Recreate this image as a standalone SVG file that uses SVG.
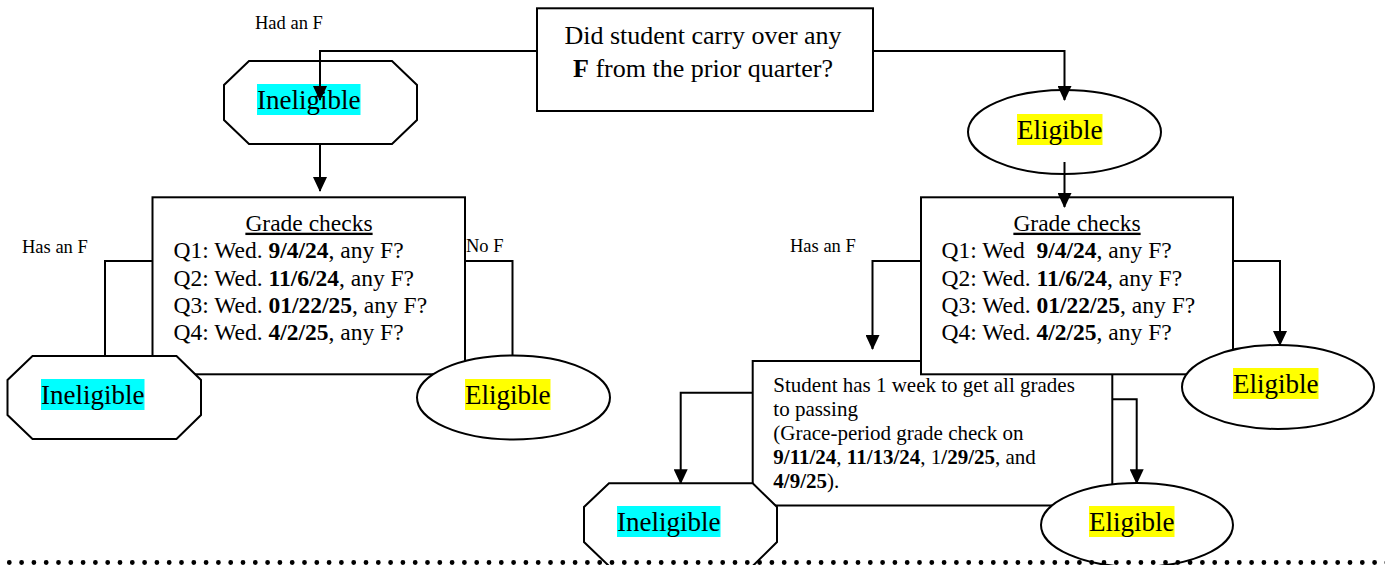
<svg xmlns="http://www.w3.org/2000/svg" width="1385" height="565" viewBox="0 0 1385 565">
<defs>
<marker id="arr" markerUnits="userSpaceOnUse" markerWidth="15" markerHeight="14" refX="14" refY="7" orient="auto"><path d="M0,0 L15,7 L0,14 z" fill="#000"/></marker>
</defs>
<style>
text{font-family:"Liberation Serif","Times New Roman",serif;fill:#000}
.box{fill:#fff;stroke:#000;stroke-width:2}
.t26{font-size:26px}
.q{font-size:23.5px}
.g{font-size:21px}
.lbl{font-size:18.5px}
.nl{font-size:27px}
.b{font-weight:bold}
.hc{fill:#00ffff}
.hy{fill:#ffff00}
.c{fill:none;stroke:#000;stroke-width:2}
.a{marker-end:url(#arr)}
.dots{fill:none;stroke:#000;stroke-width:4.8;stroke-linecap:round;stroke-dasharray:0 12.3}
</style>
<rect width="1385" height="565" fill="#fff"/>

<g id="labels">
<text class="lbl" x="255" y="29.3">Had an F</text>
<text class="lbl" x="22" y="252.7">Has an F</text>
<text class="lbl" x="466" y="252.3">No F</text>
<text class="lbl" x="790" y="252.3">Has an F</text>
</g>

<g id="grace-box">
<rect class="box" x="752.7" y="361" width="359.6" height="144.5"/>
<text class="g" x="773.3" y="391.5">Student has 1 week to get all grades</text>
<text class="g" x="773.3" y="415.7">to passing</text>
<text class="g" x="773.3" y="439.9">(Grace-period grade check on</text>
<text class="g" x="773.3" y="464.1"><tspan class="b">9/11/24</tspan>, <tspan class="b">11/13/24</tspan>, 1<tspan class="b">/29/25</tspan>, and</text>
<text class="g" x="773.3" y="488.3"><tspan class="b">4/9/25</tspan>).</text>
</g>

<g id="grade-checks-right">
<rect class="box" x="921" y="197.3" width="312" height="177"/>
<text class="q" x="1077" y="230.7" text-anchor="middle" text-decoration="underline">Grade checks</text>
<text class="q" x="941.6" y="258.3" style="white-space:pre">Q1: Wed  <tspan class="b">9/4/24</tspan>, any F?</text>
<text class="q" x="941.6" y="285.7">Q2: Wed. <tspan class="b">11/6/24</tspan>, any F?</text>
<text class="q" x="941.6" y="312.9">Q3: Wed. <tspan class="b">01/22/25</tspan>, any F?</text>
<text class="q" x="941.6" y="340.1">Q4: Wed. <tspan class="b">4/2/25</tspan>, any F?</text>
</g>

<g id="grade-checks-left">
<rect class="box" x="152.5" y="197.3" width="312.5" height="177"/>
<text class="q" x="309" y="230.7" text-anchor="middle" text-decoration="underline">Grade checks</text>
<text class="q" x="173.5" y="258.3">Q1: Wed. <tspan class="b">9/4/24</tspan>, any F?</text>
<text class="q" x="173.5" y="285.7">Q2: Wed. <tspan class="b">11/6/24</tspan>, any F?</text>
<text class="q" x="173.5" y="312.9">Q3: Wed. <tspan class="b">01/22/25</tspan>, any F?</text>
<text class="q" x="173.5" y="340.1">Q4: Wed. <tspan class="b">4/2/25</tspan>, any F?</text>
</g>

<g id="question">
<rect class="box" x="537" y="8.3" width="336" height="102.7"/>
<text class="t26" x="703" y="44.3" text-anchor="middle">Did student carry over any</text>
<text class="t26" x="703" y="77.3" text-anchor="middle"><tspan class="b">F</tspan> from the prior quarter?</text>
</g>

<g id="ineligible-top">
<polygon class="box" points="249,61 392,61 417,85 417,120 392,144 249,144 224,120 224,85"/>
<rect class="hc" x="257" y="84" width="103.5" height="31"/>
<text class="nl" x="257" y="109">Ineligible</text>
</g>

<g id="eligible-top">
<ellipse class="box" cx="1064.5" cy="132" rx="96.5" ry="42"/>
<rect class="hy" x="1017" y="114" width="85.5" height="31"/>
<text class="nl" x="1017" y="139">Eligible</text>
</g>

<g id="ineligible-left">
<polygon class="box" points="32.5,356 176.5,356 201,380 201,415 176.5,439 32.5,439 7.5,415 7.5,380"/>
<rect class="hc" x="41" y="379" width="103.5" height="31"/>
<text class="nl" x="41" y="404">Ineligible</text>
</g>

<g id="eligible-left">
<ellipse class="box" cx="513.5" cy="397.5" rx="96.5" ry="42"/>
<rect class="hy" x="465" y="379" width="85.5" height="31"/>
<text class="nl" x="465" y="404">Eligible</text>
</g>

<g id="eligible-right">
<ellipse class="box" cx="1278" cy="387" rx="96" ry="42"/>
<rect class="hy" x="1233" y="368" width="85.5" height="31"/>
<text class="nl" x="1233" y="393">Eligible</text>
</g>

<g id="ineligible-bottom">
<polygon class="box" points="609,483.3 752.7,483.3 777,507 777,542 752.7,566 609,566 584,542 584,507"/>
<rect class="hc" x="617" y="506" width="103.5" height="31"/>
<text class="nl" x="617" y="531">Ineligible</text>
</g>

<g id="eligible-bottom">
<ellipse class="box" cx="1137" cy="525" rx="96" ry="42"/>
<rect class="hy" x="1089" y="506" width="85.5" height="31"/>
<text class="nl" x="1089" y="531">Eligible</text>
</g>

<g id="connectors">
<path class="c a" d="M537,51 H320 V100"/>
<path class="c a" d="M873,51 H1064.5 V100"/>
<path class="c a" d="M320,144 V191"/>
<path class="c a" d="M1064.5,162 V207"/>
<path class="c" d="M152.5,261 H105 V356"/>
<path class="c" d="M465,261 H512.5 V356"/>
<path class="c a" d="M921,261 H872.5 V349"/>
<path class="c a" d="M1233,261 H1280 V345"/>
<path class="c a" d="M752.7,392.7 H680.7 V483.3"/>
<path class="c a" d="M1112.3,399.3 H1136.7 V483.3"/>
</g>

<path class="dots" d="M-3,562.5 H1390"/>
</svg>
